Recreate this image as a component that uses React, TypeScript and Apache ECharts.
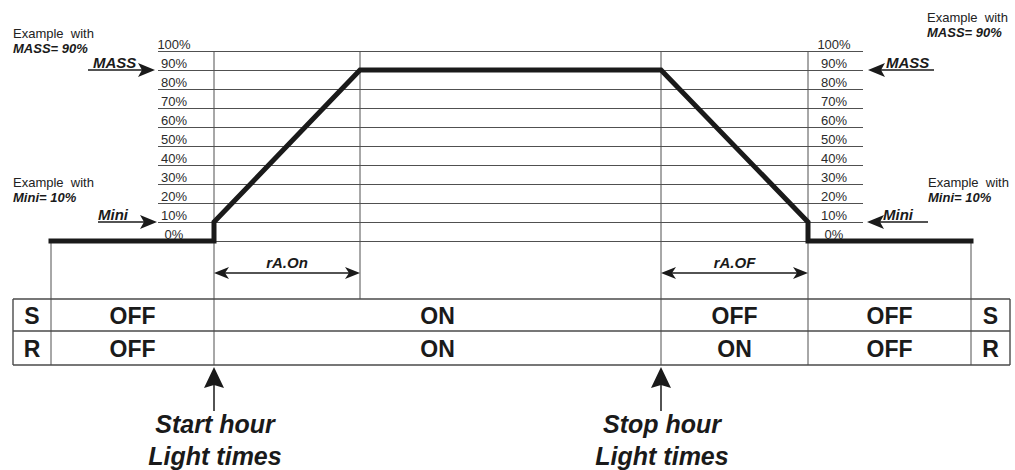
import React, { useEffect, useRef } from "react";
import * as echarts from "echarts";

const FONT = '"Liberation Sans", Arial, Helvetica, sans-serif';

// ---- data (time in arbitrary units along the day, level in %) ----
const profileTimes = [0, 163, 163, 309, 610, 757, 757, 920];
const profileLevels = [0, 0, 10, 90, 90, 10, 0, 0];
const timeStart = 0;
const timeEnd = 920;
const startHour = 163; // Start hour, light times
const rampOnEnd = 309; // end of rA.On
const stopHour = 610; // Stop hour, light times
const rampOffEnd = 757; // end of rA.OF
const MASS = 90;
const MINI = 10;
const stateBounds = [0, 163, 610, 757, 920];
const sStates = ["OFF", "ON", "OFF", "OFF"];
const rStates = ["OFF", "ON", "ON", "OFF"];
const rowNames = ["S", "R"];

// ---- layout constants ----
const W = 1015;
const H = 470;
const GRID_LEFT = 51;
const GRID_RIGHT = 971;
const GRID_TOP = 51;
const ZERO_Y = 241;
const SCALE_LEFT = 158;
const SCALE_RIGHT = 863;
const TABLE_L = 13;
const TABLE_R = 1010;
const TABLE_T = 299;
const TABLE_M = 331;
const TABLE_B = 365;

const LINE_C = "#505050";
const INK = "#1a1a1a";

function headPts(tx: number, ty: number, dir: string, len: number, half: number, notch: number) {
  if (dir === "right") return [[tx, ty], [tx - len, ty - half], [tx - len + notch, ty], [tx - len, ty + half]];
  if (dir === "left") return [[tx, ty], [tx + len, ty - half], [tx + len - notch, ty], [tx + len, ty + half]];
  return [[tx, ty], [tx - half, ty + len], [tx, ty + len - notch], [tx + half, ty + len]];
}

export default function App() {
  const ref = useRef<HTMLDivElement>(null);
  useEffect(() => {
    if (!ref.current) return;
    const chart = echarts.init(ref.current, null, { renderer: "svg" });
    const labelCommon = {
      show: true,
      inside: true,
      align: "center",
      verticalAlign: "bottom",
      formatter: "{value}%",
      fontSize: 13,
      fontFamily: FONT,
      color: "#2a2a2a",
    };
    chart.setOption({
      animation: false,
      backgroundColor: "#fff",
      grid: [
        { left: GRID_LEFT, width: GRID_RIGHT - GRID_LEFT, top: GRID_TOP, height: ZERO_Y - GRID_TOP, outerBoundsMode: "none", containLabel: false },
        { left: SCALE_LEFT, width: SCALE_RIGHT - SCALE_LEFT, top: GRID_TOP, height: ZERO_Y - GRID_TOP, outerBoundsMode: "none", containLabel: false },
      ],
      xAxis: [
        { type: "value", gridIndex: 0, min: timeStart, max: timeEnd, show: false },
        { type: "value", gridIndex: 1, min: 0, max: 1, show: false },
      ],
      yAxis: [
        { type: "value", gridIndex: 0, min: 0, max: 100, show: false },
        {
          type: "value",
          gridIndex: 1,
          position: "left",
          min: 0,
          max: 100,
          interval: 10,
          axisLine: { show: false },
          axisTick: { show: false },
          splitLine: { show: true, lineStyle: { color: LINE_C, width: 1 } },
          axisLabel: { ...labelCommon, margin: 16 },
        },
        {
          type: "value",
          gridIndex: 1,
          position: "right",
          min: 0,
          max: 100,
          interval: 10,
          axisLine: { show: false },
          axisTick: { show: false },
          splitLine: { show: false },
          axisLabel: { ...labelCommon, margin: 29 },
        },
      ],
      series: [
        {
          type: "line",
          xAxisIndex: 0,
          yAxisIndex: 0,
          data: profileTimes.map((t, i) => [t, profileLevels[i]]),
          symbol: "none",
          z: 10,
          clip: false,
          lineStyle: { color: INK, width: 5, join: "miter", cap: "square" },
        },
      ],
    });

    const px = (t: number, v: number) => chart.convertToPixel({ gridIndex: 0 }, [t, v]) as number[];
    const X = (t: number) => px(t, 0)[0];
    const Y = (v: number) => px(0, v)[1];
    const g: any[] = [];
    const line = (x1: number, y1: number, x2: number, y2: number, color = LINE_C, w = 1) =>
      g.push({ type: "line", silent: true, z: 1, shape: { x1, y1, x2, y2 }, style: { stroke: color, lineWidth: w } });
    const poly = (pts: number[][]) => g.push({ type: "polygon", silent: true, z: 5, shape: { points: pts }, style: { fill: INK } });
    const text = (x: number, y: number, s: string, font: string, align = "left", fill = INK) =>
      g.push({
        type: "text",
        silent: true,
        z: 5,
        x,
        y,
        style: { text: s, font, fill, textAlign: align, align, textVerticalAlign: "middle", verticalAlign: "middle" },
      });

    const yTop = Y(100);
    const y0 = Y(0);
    // vertical guide lines
    line(X(startHour), yTop, X(startHour), TABLE_B);
    line(X(rampOnEnd), yTop, X(rampOnEnd), TABLE_T);
    line(X(stopHour), yTop, X(stopHour), TABLE_B);
    line(X(rampOffEnd), yTop, X(rampOffEnd), TABLE_B);
    line(X(timeStart), y0, X(timeStart), TABLE_B);
    line(X(timeEnd), y0, X(timeEnd), TABLE_B);

    // table
    const TC = "#4a4a4a";
    line(TABLE_L, TABLE_T, TABLE_R, TABLE_T, TC, 1.4);
    line(TABLE_L, TABLE_M, TABLE_R, TABLE_M, TC, 1.4);
    line(TABLE_L, TABLE_B, TABLE_R, TABLE_B, TC, 1.4);
    line(TABLE_L, TABLE_T, TABLE_L, TABLE_B, TC, 1.4);
    line(TABLE_R, TABLE_T, TABLE_R, TABLE_B, TC, 1.4);
    const cellFont = `bold 23px ${FONT}`;
    const rowsY = [(TABLE_T + TABLE_M) / 2 + 1, (TABLE_M + TABLE_B) / 2 + 1];
    rowNames.forEach((n, r) => {
      text((TABLE_L + X(timeStart)) / 2, rowsY[r], n, cellFont, "center");
      text((TABLE_R + X(timeEnd)) / 2, rowsY[r], n, cellFont, "center");
      const states = r === 0 ? sStates : rStates;
      states.forEach((s, i) => {
        const cx = (X(stateBounds[i]) + X(stateBounds[i + 1])) / 2;
        text(cx, rowsY[r], s, cellFont, "center");
      });
    });

    // ramp duration arrows
    const rampY = 273;
    const ramp = (t1: number, t2: number, label: string) => {
      const a = X(t1), b = X(t2);
      line(a + 6, rampY, b - 6, rampY, INK, 1.5);
      poly(headPts(a, rampY, "left", 15, 6, 4));
      poly(headPts(b, rampY, "right", 15, 6, 4));
      text((a + b) / 2, rampY - 11, label, `italic bold 15px ${FONT}`, "center");
    };
    ramp(startHour, rampOnEnd, "rA.On");
    ramp(stopHour, rampOffEnd, "rA.OF");

    // start / stop arrows
    const bigFont = `italic bold 25px ${FONT}`;
    const upArrow = (t: number, l1: string, l2: string) => {
      const x = X(t);
      poly(headPts(x, TABLE_B + 2, "up", 21, 10, 3));
      line(x, TABLE_B + 18, x, 411, INK, 1.5);
      text(x + 1, 424, l1, bigFont, "center");
      text(x + 1, 456, l2, bigFont, "center");
    };
    upArrow(startHour, "Start hour", "Light times");
    upArrow(stopHour, "Stop hour", "Light times");

    // MASS / Mini pointers
    const yM = Y(MASS);
    const yN = Y(MINI);
    const lblFont = `italic bold 15px ${FONT}`;
    const smallFont = `13px ${FONT}`;
    const smallBI = `italic bold 13px ${FONT}`;
    // left MASS
    line(88, yM, 142, yM, INK, 1.5);
    poly(headPts(155, yM, "right", 17, 7, 4));
    text(93, yM - 8, "MASS", lblFont);
    // right MASS
    line(880, yM, 934, yM, INK, 1.5);
    poly(headPts(868, yM, "left", 17, 7, 4));
    text(886, yM - 8, "MASS", lblFont);
    // left Mini
    line(98, yN, 146, yN, INK, 1.5);
    poly(headPts(157, yN, "right", 17, 7, 4));
    text(98, yN - 8, "Mini", lblFont);
    // right Mini
    line(879, yN, 928, yN, INK, 1.5);
    poly(headPts(867, yN, "left", 17, 7, 4));
    text(883, yN - 8, "Mini", lblFont);

    // example notes
    text(13, 33, "Example  with", smallFont, "left", "#222");
    text(13, 48.5, `MASS= ${MASS}%`, smallBI);
    text(927, 17, "Example  with", smallFont, "left", "#222");
    text(927, 32.5, `MASS= ${MASS}%`, smallBI);
    text(13, 182, "Example  with", smallFont, "left", "#222");
    text(13, 197.5, `Mini= ${MINI}%`, smallBI);
    text(928, 182, "Example  with", smallFont, "left", "#222");
    text(928, 197.5, `Mini= ${MINI}%`, smallBI);

    chart.setOption({ graphic: { elements: g } });
    return () => chart.dispose();
  }, []);
  return <div ref={ref} style={{ position: "absolute", left: 0, top: 0, width: W, height: H, background: "#fff" }} />;
}
